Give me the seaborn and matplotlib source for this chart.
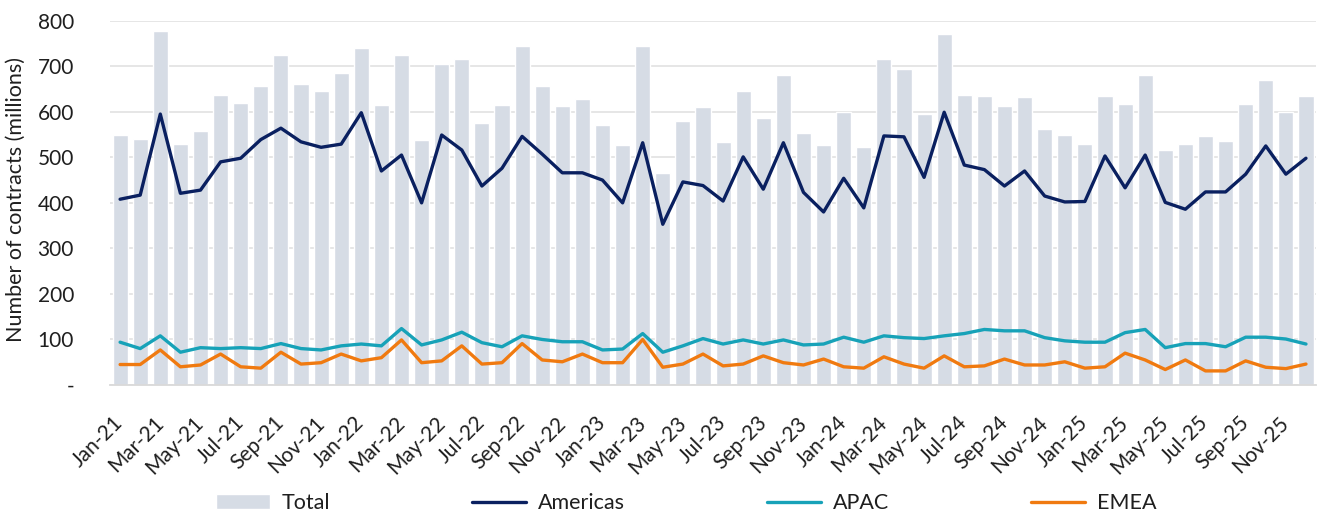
import numpy as np
import pandas as pd
import matplotlib
matplotlib.use("Agg")
import matplotlib.pyplot as plt
import matplotlib.transforms as mtransforms
import seaborn as sns

# Monthly contract volumes (millions), Jan-21 .. Dec-25
months = list(pd.date_range("2021-01-01", periods=60, freq="MS").strftime("%b-%y"))

total = [550, 541, 778, 530, 558, 637, 620, 657, 724, 660, 646, 685,
         739, 615, 724, 539, 705, 716, 576, 615, 744, 657, 612, 627,
         570, 527, 744, 466, 579, 610, 533, 646, 587, 680, 553, 527,
         599, 522, 716, 693, 595, 770, 637, 634, 612, 632, 562, 550,
         530, 635, 618, 680, 516, 530, 547, 536, 618, 669, 599, 635]

americas = [408, 417, 595, 421, 428, 490, 498, 539, 564, 534, 522, 529,
            598, 470, 505, 400, 549, 516, 437, 476, 546, 507, 466, 466,
            450, 400, 532, 353, 446, 438, 404, 501, 430, 532, 423, 380,
            454, 389, 547, 545, 456, 599, 483, 473, 437, 470, 415, 402,
            403, 503, 433, 505, 401, 386, 424, 424, 463, 525, 463, 498]

apac = [94, 80, 108, 72, 82, 80, 82, 80, 91, 80, 77, 86,
        90, 86, 124, 88, 99, 116, 93, 84, 108, 100, 95, 95,
        77, 79, 113, 72, 86, 102, 90, 99, 90, 99, 88, 90,
        105, 94, 108, 104, 102, 108, 113, 122, 119, 119, 104, 97,
        94, 94, 115, 122, 82, 91, 91, 84, 105, 105, 101, 90]

emea = [45, 45, 77, 40, 44, 68, 40, 37, 72, 46, 49, 68,
        53, 60, 99, 49, 53, 86, 46, 49, 91, 55, 51, 68,
        49, 49, 100, 39, 46, 68, 42, 46, 64, 49, 44, 57,
        40, 37, 62, 46, 37, 64, 40, 42, 57, 44, 44, 51,
        37, 40, 70, 55, 34, 55, 31, 31, 53, 39, 36, 46]

y_ticks = [0, 100, 200, 300, 400, 500, 600, 700, 800]
y_tick_labels = ["-", "100", "200", "300", "400", "500", "600", "700", "800"]

bar_color = "#D6DCE5"
line_colors = {"Americas": "#0A2060", "APAC": "#17A2B8", "EMEA": "#F07A10"}
text_color = "#1F1F1F"

sns.set_theme(style="white")
plt.rcParams["font.family"] = ["Lato", "DejaVu Sans"]

df = pd.DataFrame({"month": months, "Total": total, "Americas": americas,
                   "APAC": apac, "EMEA": emea})
df["pos"] = np.arange(len(df))

fig = plt.figure(figsize=(13.18, 5.15), dpi=100)
ax = fig.add_axes([0.0835, 0.2524, 0.915, 0.7074])

sns.barplot(data=df, x="month", y="Total", color=bar_color, saturation=1,
            width=0.75, label="Total", ax=ax, zorder=2)

for name in ["Americas", "APAC", "EMEA"]:
    sns.lineplot(data=df, x="pos", y=name, color=line_colors[name],
                 linewidth=2.4, label=name, ax=ax, zorder=3, legend=False)

ax.set_xlim(-0.5, len(df) - 0.5)
ax.set_ylim(0, 800)
ax.set_yticks(y_ticks)
ax.set_yticklabels(y_tick_labels)
ax.yaxis.grid(True, color="#E4E4E4", linewidth=1.3, zorder=0)
ax.set_axisbelow(True)

tick_pos = df["pos"].values[::2]
ax.set_xticks(tick_pos)
ax.set_xticklabels(df["month"].values[::2], rotation=45, ha="right",
                   rotation_mode="anchor", va="center")
# nudge the slanted month labels a little to the right
shift = mtransforms.ScaledTranslation(8 / 72, 0, fig.dpi_scale_trans)
for lbl in ax.get_xticklabels():
    lbl.set_transform(lbl.get_transform() + shift)

ax.tick_params(axis="both", length=0, labelsize=15, labelcolor=text_color)
ax.tick_params(axis="y", pad=26)
ax.tick_params(axis="x", pad=25)

for side in ["top", "right", "left"]:
    ax.spines[side].set_visible(False)
ax.spines["bottom"].set_color("#D9D9D9")
ax.spines["bottom"].set_linewidth(1.3)

ax.set_xlabel("")
ax.set_ylabel("Number of contracts (millions)", fontsize=15.5, color=text_color)
ax.yaxis.set_label_coords(-0.07, 0.51)

handles, labels = ax.get_legend_handles_labels()
if ax.get_legend() is not None:
    ax.get_legend().remove()
order = ["Total", "Americas", "APAC", "EMEA"]
hmap = dict(zip(labels, handles))
fig.legend([hmap[k] for k in order], order, loc="center",
           bbox_to_anchor=(0.5205, 0.023), ncol=4, frameon=False,
           fontsize=15.5, handlelength=2.5, handletextpad=0.55,
           columnspacing=6.6, labelcolor=text_color)

fig.savefig("out.png", dpi=100)
